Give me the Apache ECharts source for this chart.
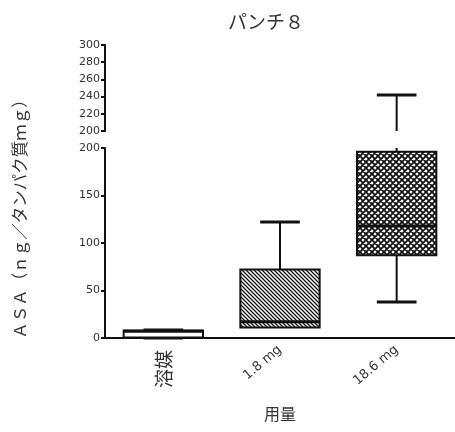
<!DOCTYPE html>
<html>
<head>
<meta charset="utf-8">
<script src="https://cdn.jsdelivr.net/npm/echarts@6/dist/echarts.min.js"></script>
<style>
  html, body { margin: 0; padding: 0; background: #fff; }
  #chart { width: 455px; height: 432px; }
</style>
</head>
<body>
<div id="chart"></div>
<script>
var categories = ['溶媒', '1.8 mg', '18.6 mg'];
var minVals = [0, 11, 38];
var q1Vals = [0.5, 11, 87];
var medVals = [7, 17, 118];
var q3Vals = [8, 72, 196];
var maxVals = [8.5, 122, 242];
var upperTicks = [200, 300, 20];
var lowerTicks = [0, 200, 50];

var boxRows = categories.map(function (c, i) {
    return [i, minVals[i], q1Vals[i], medVals[i], q3Vals[i], maxVals[i]];
});

// hatch fills
function hatch(size, cross, lw) {
    var cv = document.createElement('canvas');
    cv.width = size; cv.height = size;
    var ctx = cv.getContext('2d');
    ctx.fillStyle = '#fff';
    ctx.fillRect(0, 0, size, size);
    ctx.strokeStyle = '#111';
    ctx.lineWidth = lw;
    ctx.beginPath();
    ctx.moveTo(-1, -1); ctx.lineTo(size + 1, size + 1);
    ctx.moveTo(-1, size - 1); ctx.lineTo(1, size + 1);
    ctx.moveTo(size - 1, -1); ctx.lineTo(size + 1, 1);
    if (cross) {
        ctx.moveTo(-1, size + 1); ctx.lineTo(size + 1, -1);
        ctx.moveTo(-1, 1); ctx.lineTo(1, -1);
        ctx.moveTo(size - 1, size + 1); ctx.lineTo(size + 1, size - 1);
    }
    ctx.stroke();
    return { image: cv, repeat: 'repeat' };
}
var fills = ['#fff', hatch(4, false, 1.3), hatch(6, true, 1.8)];

function makeRender(lo, hi) {
    return function (params, api) {
        var idx = api.value(0);
        var v = [api.value(1), api.value(2), api.value(3), api.value(4), api.value(5)];
        var clamp = function (x) { return Math.min(Math.max(x, lo), hi); };
        var y = function (x) { return api.coord([idx, clamp(x)])[1]; };
        var cx = api.coord([idx, lo])[0];
        var w = api.size([1, 0])[0] * 0.68;
        var kids = [];
        var line = function (x1, y1, x2, y2, lw) {
            kids.push({ type: 'line', shape: { x1: x1, y1: y1, x2: x2, y2: y2 },
                style: { stroke: '#111', lineWidth: lw } });
        };
        // whiskers
        if (v[4] > v[3] && v[4] > lo) {
            line(cx, y(Math.max(v[3], lo)), cx, y(v[4]), 2);
            if (v[4] <= hi) line(cx - w / 4, y(v[4]), cx + w / 4, y(v[4]), 3);
        }
        if (v[0] < v[1] && v[0] < hi) {
            line(cx, y(Math.min(v[1], hi)), cx, y(v[0]), 2);
            if (v[0] >= lo) line(cx - w / 4, y(v[0]), cx + w / 4, y(v[0]), 3);
        }
        // box
        if (v[3] > lo && v[1] < hi) {
            var top = y(v[3]), bot = y(v[1]);
            kids.push({ type: 'rect', shape: { x: cx - w / 2, y: top, width: w, height: bot - top },
                style: { fill: fills[idx], stroke: '#111', lineWidth: 2 } });
            if (v[2] >= lo && v[2] <= hi) line(cx - w / 2, y(v[2]), cx + w / 2, y(v[2]), 3);
        }
        return { type: 'group', children: kids };
    };
}

var chart = echarts.init(document.getElementById('chart'));
var tickFont = { color: '#333', fontSize: 11, fontFamily: 'DejaVu Sans', margin: 5 };

var option = {
    backgroundColor: '#fff',
    animation: false,
    title: {
        text: 'パンチ８', left: 223, top: 7,
        textStyle: { fontSize: 19, fontWeight: 'normal', color: '#333', fontFamily: 'Noto Sans CJK JP' }
    },
    grid: [
        { left: 105, top: 45, width: 354, height: 86 },
        { left: 105, top: 148, width: 354, height: 190 }
    ],
    xAxis: [
        { type: 'category', data: categories, gridIndex: 0, show: false },
        {
            type: 'category', data: categories, gridIndex: 1, position: 'bottom',
            axisLine: { lineStyle: { color: '#111', width: 2 } },
            axisTick: { alignWithLabel: true, length: 4, lineStyle: { color: '#111', width: 2 } },
            axisLabel: {
                rotate: 40, margin: 10, color: '#333', fontSize: 13, fontFamily: 'DejaVu Sans',
                formatter: function (v, i) { return i === 0 ? '' : v; }
            },
            name: '用量', nameLocation: 'middle', nameGap: 68,
            nameTextStyle: { fontSize: 16, color: '#333', fontFamily: 'Noto Sans CJK JP' }
        },
        {
            type: 'category', data: categories, gridIndex: 1, position: 'bottom',
            axisLine: { show: false }, axisTick: { show: false },
            axisLabel: {
                rotate: 90, margin: 12, color: '#333', fontSize: 19, fontFamily: 'Noto Sans CJK JP',
                formatter: function (v, i) { return i === 0 ? v : ''; }
            }
        }
    ],
    yAxis: [
        {
            type: 'value', gridIndex: 0, min: upperTicks[0], max: upperTicks[1], interval: upperTicks[2],
            splitLine: { show: false },
            axisLine: { show: true, lineStyle: { color: '#111', width: 2 } },
            axisTick: { show: true, length: 4, lineStyle: { color: '#111', width: 2 } },
            axisLabel: tickFont
        },
        {
            type: 'value', gridIndex: 1, min: lowerTicks[0], max: lowerTicks[1], interval: lowerTicks[2],
            splitLine: { show: false },
            axisLine: { show: true, lineStyle: { color: '#111', width: 2 } },
            axisTick: { show: true, length: 4, lineStyle: { color: '#111', width: 2 } },
            axisLabel: tickFont
        }
    ],
    graphic: [{
        type: 'text', x: 20, y: 215, rotation: Math.PI / 2,
        style: {
            text: 'ＡＳＡ（ｎｇ／タンパク質ｍｇ）', fill: '#333',
            font: '16.5px "Noto Sans CJK JP"', align: 'center', verticalAlign: 'middle'
        }
    }],
    series: [
        {
            type: 'custom', xAxisIndex: 0, yAxisIndex: 0, data: boxRows,
            encode: { x: 0, y: [1, 2, 3, 4, 5] }, renderItem: makeRender(upperTicks[0], upperTicks[1])
        },
        {
            type: 'custom', xAxisIndex: 1, yAxisIndex: 1, data: boxRows,
            encode: { x: 0, y: [1, 2, 3, 4, 5] }, renderItem: makeRender(lowerTicks[0], lowerTicks[1])
        }
    ]
};

chart.setOption(option);
</script>
</body>
</html>
